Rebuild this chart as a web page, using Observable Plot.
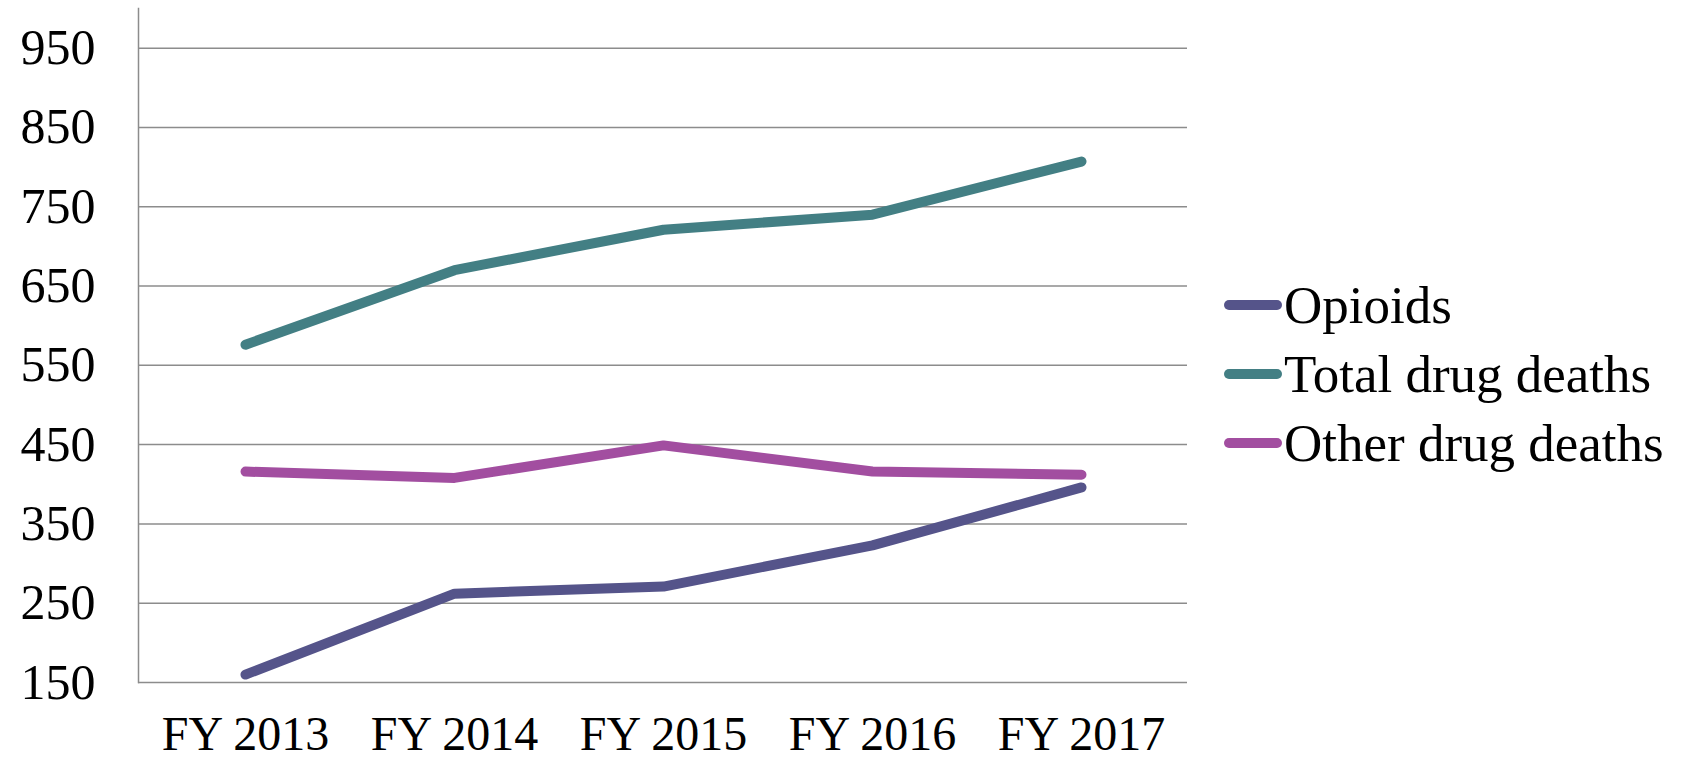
<!DOCTYPE html>
<html>
<head>
<meta charset="utf-8">
<script src="https://cdn.jsdelivr.net/npm/d3@7"></script>
<script src="https://cdn.jsdelivr.net/npm/@observablehq/plot@0.6"></script>
<style>
  html, body { margin: 0; padding: 0; background: #fff; }
  #wrap { position: relative; width: 1686px; height: 759px; }
  #legend { position: absolute; left: 1224px; top: 270px; font-family: "Liberation Serif", serif; font-size: 53px; color: #000; }
  .row { display: flex; align-items: center; height: 69px; white-space: nowrap; }
  .sw { width: 58px; height: 10px; border-radius: 5px; margin-right: 2px; }
</style>
</head>
<body>
<div id="wrap"><div id="legend"></div></div>
<script>
const years = ["FY 2013", "FY 2014", "FY 2015", "FY 2016", "FY 2017"];
const opioids = [160, 262, 271, 323, 396];
const totalDeaths = [576, 670, 721, 740, 807];
const otherDeaths = [416, 408, 449, 416, 412];
const seriesNames = ["Opioids", "Total drug deaths", "Other drug deaths"];
const seriesColors = ["#55548a", "#437f84", "#a24ea0"];
const yTicks = [150, 250, 350, 450, 550, 650, 750, 850, 950];

const seriesValues = [opioids, totalDeaths, otherDeaths];
const data = [];
seriesNames.forEach((name, i) => {
  years.forEach((yr, j) => data.push({ series: name, year: yr, value: seriesValues[i][j] }));
});

const chart = Plot.plot({
  width: 1686,
  height: 759,
  marginLeft: 138,
  marginRight: 499,
  marginTop: 8,
  marginBottom: 77,
  style: { fontFamily: "Liberation Serif, serif", background: "#fff", color: "#000" },
  x: { type: "point", domain: years, padding: 0.5, label: null },
  y: { domain: [150, 1000], label: null },
  color: { domain: seriesNames, range: seriesColors },
  marks: [
    Plot.ruleY(yTicks, { stroke: "#8c8c8c", strokeWidth: 1.5 }),
    Plot.frame({ anchor: "left", stroke: "#8c8c8c", strokeWidth: 1.5 }),
    Plot.axisY({ ticks: yTicks, tickSize: 0, tickPadding: 43, fontSize: 50, tickFormat: d => String(d) }),
    Plot.axisX({ tickSize: 0, tickPadding: 33, fontSize: 48 }),
    Plot.line(data.filter(d => d.series !== "Opioids"), { x: "year", y: "value", z: "series", stroke: "series", strokeWidth: 10, strokeLinecap: "round", strokeLinejoin: "round" }),
    Plot.line(data.filter(d => d.series === "Opioids"), { x: "year", y: "value", z: "series", stroke: "series", strokeWidth: 10, strokeLinecap: "round", strokeLinejoin: "round" })
  ]
});
document.getElementById("wrap").prepend(chart);
chart.style.position = "absolute";
chart.style.left = "0";
chart.style.top = "0";

const legend = document.getElementById("legend");
seriesNames.forEach((name, i) => {
  const row = document.createElement("div");
  row.className = "row";
  const sw = document.createElement("div");
  sw.className = "sw";
  sw.style.background = seriesColors[i];
  const lab = document.createElement("span");
  lab.textContent = name;
  row.appendChild(sw);
  row.appendChild(lab);
  legend.appendChild(row);
});
</script>
</body>
</html>
